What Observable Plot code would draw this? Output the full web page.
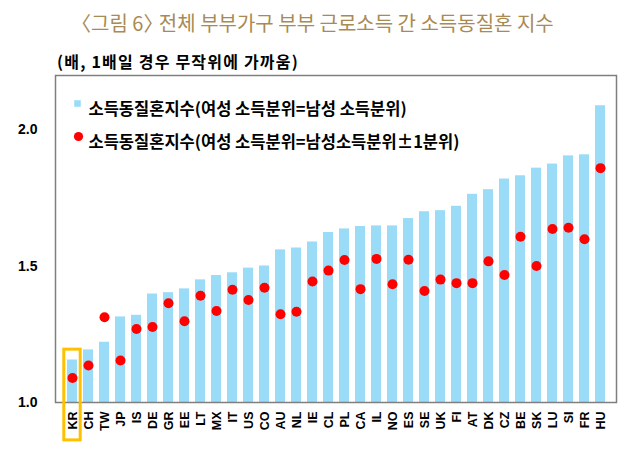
<!DOCTYPE html>
<html>
<head>
<meta charset="utf-8">
<script src="https://cdn.jsdelivr.net/npm/d3@7"></script>
<script src="https://cdn.jsdelivr.net/npm/@observablehq/plot@0.6"></script>
<style>
  html, body { margin: 0; padding: 0; background: #fff; }
  #wrap { width: 640px; }
  #head { position: relative; width: 640px; height: 70px; }
  #title { position: absolute; left: 71px; top: 12px; font: 400 20px/22px "Noto Sans CJK KR", sans-serif; color: #A98A52; white-space: nowrap; }
  #title .cb { letter-spacing: -9px; }
  #sub { position: absolute; left: 57px; top: 51px; font: 700 16px/20px "Noto Sans CJK KR", sans-serif; letter-spacing: 1.2px; color: #000; white-space: nowrap; }
  svg { display: block; }
</style>
</head>
<body>
<div id="wrap">
  <div id="head">
    <div id="title">〈그림 6<span class="cb">〉</span> 전체 부부가구 부부 근로소득 간 소득동질혼 지수</div>
    <div id="sub">(배, 1배일 경우 무작위에 가까움)</div>
  </div>
  <div id="chart"></div>
</div>
<script>
const countries = ["KR","CH","TW","JP","IS","DE","GR","EE","LT","MX","IT","US","CO","AU","NL","IE","CL","PL","CA","IL","NO","ES","SE","UK","FI","AT","DK","CZ","BE","SK","LU","SI","FR","HU"];
const homogSame = [1.156,1.193,1.221,1.314,1.320,1.398,1.403,1.417,1.450,1.466,1.476,1.493,1.501,1.560,1.567,1.589,1.624,1.637,1.646,1.648,1.648,1.675,1.700,1.704,1.720,1.764,1.781,1.820,1.832,1.860,1.875,1.905,1.909,2.089];
const homogPm1 = [1.090,1.136,1.313,1.154,1.270,1.277,1.364,1.298,1.392,1.336,1.414,1.376,1.421,1.324,1.333,1.444,1.484,1.523,1.416,1.527,1.434,1.524,1.409,1.451,1.438,1.438,1.518,1.468,1.608,1.501,1.637,1.641,1.599,1.860];
const legendLabels = ["소득동질혼지수(여성 소득분위=남성 소득분위)", "소득동질혼지수(여성 소득분위=남성소득분위±1분위)"];
const yTicks = [1.0, 1.5, 2.0];
const highlighted = ["KR"];

const data = countries.map((c, i) => ({country: c, same: homogSame[i], pm1: homogPm1[i]}));

const barColor = "#9ADCF7";
const dotColor = "#FF0000";

const chart = Plot.plot({
  width: 640,
  height: 387,
  marginTop: 5,
  marginBottom: 55,
  marginLeft: 55,
  marginRight: 24,
  style: {fontFamily: "'Liberation Sans', Arial, sans-serif", background: "#fff"},
  x: {domain: countries, paddingInner: 0.4, paddingOuter: 0.2, label: null},
  y: {domain: [1.0, 2.2], label: null},
  marks: [
    Plot.barY(data, {x: "country", y1: 1.0, y2: "same", fill: barColor}),
    Plot.dot(data, {x: "country", y: "pm1", r: 5, fill: dotColor}),
    Plot.frame({stroke: "#7f7f7f", strokeWidth: 1.5}),
    Plot.axisY({ticks: yTicks, tickFormat: d3.format(".1f"), tickSize: 0, tickPadding: 18, fontSize: 14, fontWeight: "bold", fill: "#000", label: null}),
    Plot.axisX({tickRotate: -90, tickSize: 0, tickPadding: 9, fontSize: 12.5, fontWeight: "bold", fill: "#000", label: null}),
    // legend
    Plot.dot([legendLabels[0]], {frameAnchor: "top-left", dx: 22, dy: 28, symbol: "square", r: 3.7, fill: barColor}),
    Plot.text([legendLabels[0]], {frameAnchor: "top-left", dx: 33, dy: 28, text: d => d, textAnchor: "start", fontSize: 16.5, fontWeight: "bold", fontFamily: "'Noto Sans CJK KR', sans-serif", fill: "#000"}),
    Plot.dot([legendLabels[1]], {frameAnchor: "top-left", dx: 23, dy: 61, r: 4.6, fill: dotColor}),
    Plot.text([legendLabels[1]], {frameAnchor: "top-left", dx: 33, dy: 61, text: d => d, textAnchor: "start", fontSize: 16.5, fontWeight: "bold", fontFamily: "'Noto Sans CJK KR', sans-serif", fill: "#000"}),
    // highlight box
    Plot.barY(highlighted, {x: d => d, y1: 0.861, y2: 1.194, fill: "none", stroke: "#FFC000", strokeWidth: 3, insetLeft: -3.2, insetRight: -3.2})
  ]
});
document.getElementById("chart").appendChild(chart);
</script>
</body>
</html>
